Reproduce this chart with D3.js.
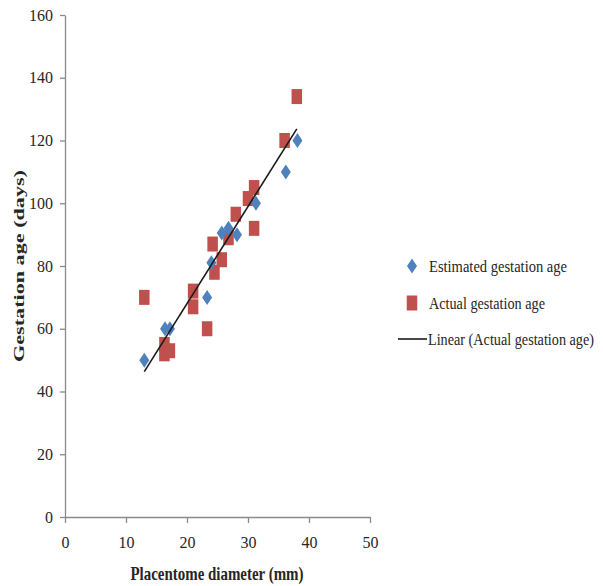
<!DOCTYPE html>
<html>
<head>
<meta charset="utf-8">
<script src="https://cdn.jsdelivr.net/npm/d3@7"></script>
<style>
    body { margin: 0; background: #fff; }
    #chart text { font-family: "Liberation Serif", "DejaVu Serif", serif; fill: #262626; }
</style>
</head>
<body>
<div id="chart"></div>
<script>
'use strict';

// estimated gestation age (diamonds)
const estDiameter = [13, 16.4, 17.2, 23.3, 24.0, 25.7, 26.8, 28.2, 31.3, 36.2, 38.1];
const estAge      = [50, 60, 60, 70, 81, 90.5, 92, 90, 100, 110, 120];

// actual gestation age (squares)
const actDiameter = [13, 16.3, 16.3, 17.2, 21, 21, 23.3, 24.2, 24.5, 25.7, 26.8, 28, 30, 31, 31, 36, 38];
const actAge      = [70, 55, 52, 53, 72, 67, 60, 87, 78, 82, 89, 96.5, 101.5, 105, 92, 120, 134];

const xTicks = [0, 10, 20, 30, 40, 50];
const yTicks = [0, 20, 40, 60, 80, 100, 120, 140, 160];

const legendLabels = ['Estimated gestation age', 'Actual gestation age', 'Linear (Actual gestation age)'];

const blue = '#4f81bd';
const red = '#c0504d';
const axisColor = '#8a8a8a';

let width = 603, height = 586;

let svg = d3.select('#chart').append('svg')
    .attr('width', width)
    .attr('height', height);

let x = d3.scaleLinear().domain([0, 50]).range([65, 370]);
let y = d3.scaleLinear().domain([0, 160]).range([517, 15]);

// axes
let yAxis = svg.append('g')
    .attr('transform', 'translate(' + x(0) + ',0)')
    .call(d3.axisLeft(y).tickValues(yTicks).tickSize(5).tickPadding(7).tickSizeOuter(0));

let xAxis = svg.append('g')
    .attr('transform', 'translate(0,' + y(0) + ')')
    .call(d3.axisBottom(x).tickValues(xTicks).tickSize(6).tickPadding(14).tickSizeOuter(0));

[xAxis, yAxis].forEach(function (a) {
    a.select('.domain').attr('stroke', axisColor).attr('stroke-width', 1.3);
    a.selectAll('.tick line').attr('stroke', axisColor).attr('stroke-width', 1.3);
    a.selectAll('.tick text')
        .style('font-family', '"Liberation Serif", serif')
        .style('font-size', '16px')
        .attr('fill', '#262626');
});

// regression of actual data
let n = actDiameter.length;
let mx = d3.mean(actDiameter), my = d3.mean(actAge);
let sxy = 0, sxx = 0;
for (let i = 0; i < n; i++) {
    sxy += (actDiameter[i] - mx) * (actAge[i] - my);
    sxx += (actDiameter[i] - mx) * (actDiameter[i] - mx);
}
let slope = sxy / sxx;
let intercept = my - slope * mx;
let fitX = d3.extent(actDiameter);

// squares
let sqW = 10.5, sqH = 15;
svg.append('g').selectAll('rect')
    .data(actDiameter)
    .enter().append('rect')
    .attr('x', function (d) { return x(d) - sqW / 2; })
    .attr('y', function (d, i) { return y(actAge[i]) - sqH / 2; })
    .attr('width', sqW)
    .attr('height', sqH)
    .attr('fill', red);

// diamonds
function diamond(cx, cy) {
    let w = 5, h = 7.5;
    return 'M' + cx + ',' + (cy - h) + 'L' + (cx + w) + ',' + cy + 'L' + cx + ',' + (cy + h) + 'L' + (cx - w) + ',' + cy + 'Z';
}
svg.append('g').selectAll('path')
    .data(estDiameter)
    .enter().append('path')
    .attr('d', function (d, i) { return diamond(x(d), y(estAge[i])); })
    .attr('fill', blue);

// trend line
let line = d3.line()
    .x(function (d) { return x(d); })
    .y(function (d) { return y(intercept + slope * d); });

svg.append('path')
    .attr('d', line(fitX))
    .attr('stroke', '#1a1a1a')
    .attr('stroke-width', 1.6)
    .attr('fill', 'none');

// axis titles
svg.append('text')
    .attr('x', 217)
    .attr('y', 580)
    .attr('text-anchor', 'middle')
    .attr('textLength', 173)
    .attr('lengthAdjust', 'spacingAndGlyphs')
    .style('font-size', '19px')
    .style('font-weight', 'bold')
    .text('Placentome diameter (mm)');

svg.append('text')
    .attr('transform', 'translate(24,266) rotate(-90)')
    .attr('text-anchor', 'middle')
    .attr('textLength', 192)
    .attr('lengthAdjust', 'spacingAndGlyphs')
    .style('font-size', '15px')
    .style('font-weight', 'bold')
    .text('Gestation age (days)');

// legend
let legend = svg.append('g');
let legendY = [266, 303, 339];
let legendW = [138, 116, 166];

legend.append('path')
    .attr('d', diamond(412, legendY[0]))
    .attr('fill', blue);

legend.append('rect')
    .attr('x', 412 - sqW / 2)
    .attr('y', legendY[1] - sqH / 2)
    .attr('width', sqW)
    .attr('height', sqH)
    .attr('fill', red);

legend.append('line')
    .attr('x1', 398).attr('x2', 427)
    .attr('y1', legendY[2]).attr('y2', legendY[2])
    .attr('stroke', '#1a1a1a')
    .attr('stroke-width', 1.6);

// smaller font stretched vertically, so the labels stay narrow like the original
legend.selectAll('text.legend-label')
    .data(legendLabels)
    .enter().append('text')
    .attr('class', 'legend-label')
    .attr('transform', function (d, i) {
        return 'translate(' + (i === 2 ? 428 : 429) + ',' + (legendY[i] + 6) + ') scale(1,1.15)';
    })
    .attr('textLength', function (d, i) { return legendW[i]; })
    .attr('lengthAdjust', 'spacingAndGlyphs')
    .style('font-size', '14px')
    .text(function (d) { return d; });
</script>
</body>
</html>
